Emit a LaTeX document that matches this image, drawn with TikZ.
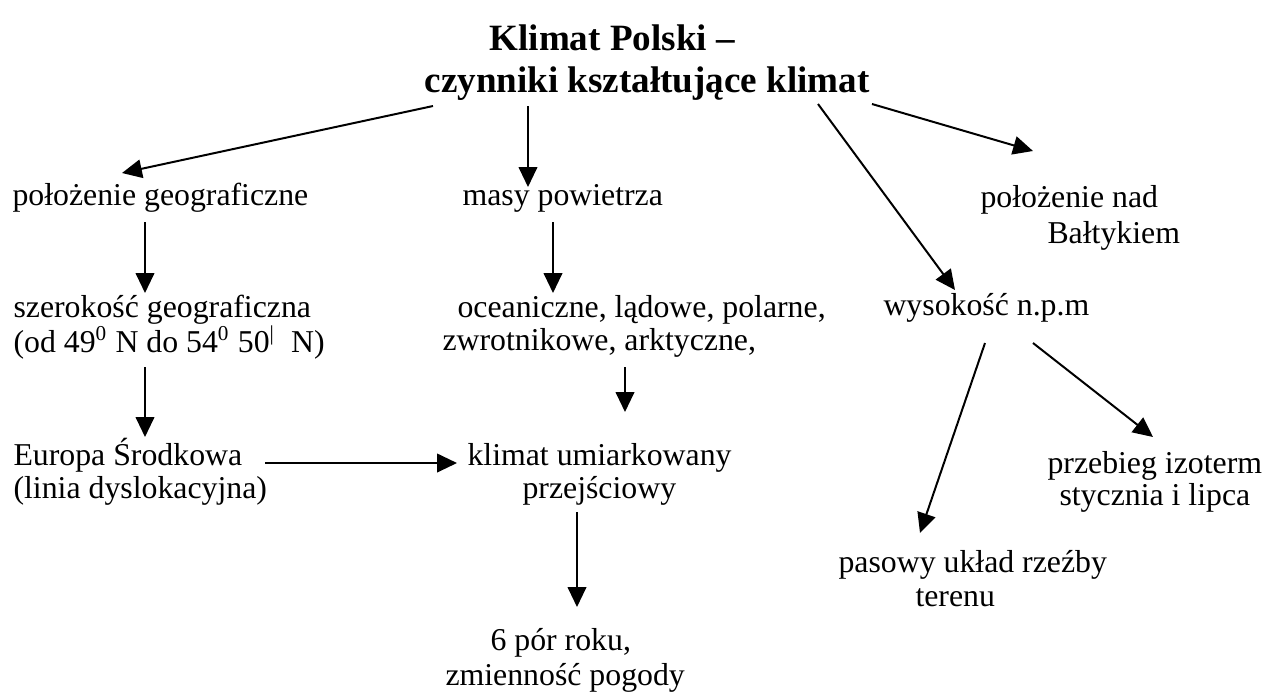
\documentclass[tikz,border=0pt]{standalone}
\usepackage{fontspec}
\setmainfont{Liberation Serif}
\usetikzlibrary{arrows.meta}
\begin{document}
\begin{tikzpicture}[x=0.3774pt,y=-0.3774pt,
  lbl/.style={inner sep=0pt,anchor=base west,font=\fontsize{12}{14}\selectfont},
  ttl/.style={inner sep=0pt,anchor=base west,font=\fontsize{14}{16}\selectfont\bfseries},
  arr/.style={line width=0.75pt,-{Triangle[length=7.5pt,width=7pt]}}]
\useasboundingbox (0,0) rectangle (1266,691);
% title
\node[ttl] (t1) at (489,50) {Klimat Polski –};
\node[ttl] (t2) at (424,92) {czynniki kształtujące klimat};
% level 1
\node[lbl] (geo) at (12,205) {położenie geograficzne};
\node[lbl] (masy) at (462,205) {masy powietrza};
\node[lbl] (nad1) at (980,207) {położenie nad};
\node[lbl] (nad2) at (1047,243) {Bałtykiem};
% level 2
\node[lbl] (szer1) at (13,317) {szerokość geograficzna};
\node[lbl] (szer2) at (13,352) {(od 49\textsuperscript{0} N do 54\textsuperscript{0} 50\textsuperscript{\textbar}\ \ N)};
\node[lbl] (oce1) at (457,317) {oceaniczne, lądowe, polarne,};
\node[lbl] (oce2) at (442,350) {zwrotnikowe, arktyczne,};
\node[lbl] (wys) at (883,315) {wysokość n.p.m};
% level 3
\node[lbl] (eur1) at (13,465) {Europa Środkowa};
\node[lbl] (eur2) at (13,498) {(linia dyslokacyjna)};
\node[lbl] (klim1) at (467,465) {klimat umiarkowany};
\node[lbl] (klim2) at (522,498) {przejściowy};
\node[lbl] (prz1) at (1047,473) {przebieg izoterm};
\node[lbl] (prz2) at (1059,505) {stycznia i lipca};
% level 4
\node[lbl] (pas1) at (838,572) {pasowy układ rzeźby};
\node[lbl] (pas2) at (915,606) {terenu};
\node[lbl] (por1) at (490,650) {6 pór roku,};
\node[lbl] (por2) at (445,685) {zmienność pogody};
% connector end points
\coordinate (a1s) at (433,106); \coordinate (a1e) at (122,173);
\coordinate (a2s) at (528,106); \coordinate (a2e) at (528,187);
\coordinate (a3s) at (818,104); \coordinate (a3e) at (955,290);
\coordinate (a4s) at (872,104); \coordinate (a4e) at (1033,151);
\coordinate (a5s) at (145,222); \coordinate (a5e) at (145,293);
\coordinate (a6s) at (553,222); \coordinate (a6e) at (553,293);
\coordinate (a7s) at (145,367); \coordinate (a7e) at (145,437);
\coordinate (a8s) at (625,367); \coordinate (a8e) at (625,412);
\coordinate (a9s) at (265,463); \coordinate (a9e) at (457,463);
\coordinate (a10s) at (577,512); \coordinate (a10e) at (577,607);
\coordinate (a11s) at (985,343); \coordinate (a11e) at (920,533);
\coordinate (a12s) at (1033,343); \coordinate (a12e) at (1153,437);
\draw[arr] (a1s) -- (a1e);
\draw[arr] (a2s) -- (a2e);
\draw[arr] (a3s) -- (a3e);
\draw[arr] (a4s) -- (a4e);
\draw[arr] (a5s) -- (a5e);
\draw[arr] (a6s) -- (a6e);
\draw[arr] (a7s) -- (a7e);
\draw[arr] (a8s) -- (a8e);
\draw[arr] (a9s) -- (a9e);
\draw[arr] (a10s) -- (a10e);
\draw[arr] (a11s) -- (a11e);
\draw[arr] (a12s) -- (a12e);
\end{tikzpicture}
\end{document}
